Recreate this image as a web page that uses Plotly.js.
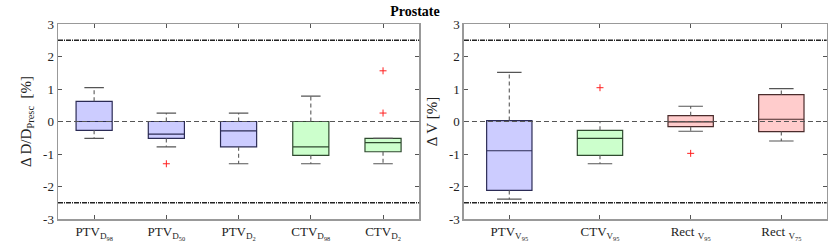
<!DOCTYPE html>
<html>
<head>
<meta charset="utf-8">
<script src="https://cdn.plot.ly/plotly-3.0.1.min.js"></script>
<style>html,body{margin:0;padding:0;background:#fff;}#chart{width:830px;height:250px;}</style>
</head>
<body>
<div id="chart"></div>
<script>
// ---- Left panel: dose differences ----
const catsL = ['PTV<sub>D<sub>98</sub></sub>', 'PTV<sub>D<sub>50</sub></sub>', 'PTV<sub>D<sub>2</sub></sub>', 'CTV<sub>D<sub>98</sub></sub>', 'CTV<sub>D<sub>2</sub></sub>'];
const colorGroupL = ['blue', 'blue', 'blue', 'green', 'green'];
const q1L  = [-0.27, -0.52, -0.78, -1.04, -0.93];
const medL = [ 0.00, -0.39, -0.29, -0.78, -0.65];
const q3L  = [ 0.62,  0.00,  0.00,  0.00, -0.52];
const loL  = [-0.52, -0.78, -1.30, -1.30, -1.30];
const hiL  = [ 1.04,  0.26,  0.26,  0.78, -0.52];
const outCatL = [2, 5, 5];
const outValL = [-1.30, 1.56, 0.26];

// ---- Right panel: volume differences ----
const catsR = ['PTV<sub>V<sub>95</sub></sub>', 'CTV<sub>V<sub>95</sub></sub>', 'Rect <sub>V<sub>95</sub></sub>', 'Rect <sub>V<sub>75</sub></sub>'];
const colorGroupR = ['blue', 'green', 'red', 'red'];
const q1R  = [-2.12, -1.04, -0.16, -0.31];
const medR = [-0.90, -0.52, -0.01,  0.07];
const q3R  = [ 0.03, -0.27,  0.18,  0.83];
const loR  = [-2.39, -1.30, -0.30, -0.60];
const hiR  = [ 1.51,  0.00,  0.47,  1.01];
const outCatR = [2, 3];
const outValR = [1.04, -0.98];

const yTicks = [-3, -2, -1, 0, 1, 2, 3];
const limitLines = [-2.5, 2.5];

const palette = {
  blue:  {fill: 'rgba(204,204,255,1)', line: '#2b2b55'},
  green: {fill: 'rgba(204,255,204,1)', line: '#2f4a2f'},
  red:   {fill: 'rgba(255,204,204,1)', line: '#4a2b2b'}
};

const FONT = 'Liberation Serif, Times New Roman, serif';
const CAP = 0.135;

function panel(cats, groups, q1, med, q3, lo, hi, outCat, outVal, xa, ya) {
  const traces = [];
  cats.forEach((c, i) => {
    const p = palette[groups[i]];
    traces.push({
      type: 'box', xaxis: xa, yaxis: ya,
      x: [i + 1], q1: [q1[i]], median: [med[i]], q3: [q3[i]],
      lowerfence: [q1[i]], upperfence: [q3[i]],
      width: 0.5, boxpoints: false,
      fillcolor: p.fill, line: {color: p.line, width: 1.2},
      showlegend: false, hoverinfo: 'skip'
    });
  });
  const wx = [], wy = [], cx = [], cy = [];
  cats.forEach((c, i) => {
    const x = i + 1;
    wx.push(x, x, null, x, x, null);
    wy.push(q3[i], hi[i], null, q1[i], lo[i], null);
    cx.push(x - CAP, x + CAP, null, x - CAP, x + CAP, null);
    cy.push(hi[i], hi[i], null, lo[i], lo[i], null);
  });
  traces.push({type: 'scatter', mode: 'lines', xaxis: xa, yaxis: ya, x: wx, y: wy,
    line: {color: '#666', width: 1.2, dash: '4px,3px'}, showlegend: false, hoverinfo: 'skip'});
  traces.push({type: 'scatter', mode: 'lines', xaxis: xa, yaxis: ya, x: cx, y: cy,
    line: {color: '#555', width: 1.2}, showlegend: false, hoverinfo: 'skip'});
  traces.push({type: 'scatter', mode: 'markers', xaxis: xa, yaxis: ya, x: outCat, y: outVal,
    marker: {symbol: 'cross-thin', size: 5, line: {color: '#ff2020', width: 1}},
    showlegend: false, hoverinfo: 'skip'});
  return traces;
}

const data = [].concat(
  panel(catsL, colorGroupL, q1L, medL, q3L, loL, hiL, outCatL, outValL, 'x', 'y'),
  panel(catsR, colorGroupR, q1R, medR, q3R, loR, hiR, outCatR, outValR, 'x2', 'y2')
);

function xaxis(domain, n, cats, anchor) {
  return {
    domain: domain, anchor: anchor, range: [0.5, n + 0.5],
    tickvals: cats.map((c, i) => i + 1), ticktext: cats,
    ticks: 'inside', ticklen: 4, tickcolor: '#555', mirror: 'ticks',
    showline: true, linecolor: '#999', linewidth: 1.5, showgrid: false, zeroline: false,
    tickfont: {family: FONT, size: 13, color: '#222'}
  };
}
function yaxis(domain, anchor, title, standoff) {
  return {
    domain: domain, anchor: anchor, range: [-3, 3],
    tickvals: yTicks, ticktext: yTicks.map(String),
    ticks: 'inside', ticklen: 4, tickcolor: '#555', mirror: 'ticks',
    showline: true, linecolor: '#999', linewidth: 1.5, showgrid: false, zeroline: false,
    tickfont: {family: FONT, size: 13, color: '#222'},
    title: {text: title, font: {family: FONT, size: 15, color: '#222'}, standoff: standoff}
  };
}

const shapes = [];
[['x', 'y'], ['x2', 'y2']].forEach(([xa, ya]) => {
  shapes.push({type: 'line', xref: xa + ' domain', yref: ya, x0: 0, x1: 1, y0: 0, y1: 0,
    line: {color: '#555', width: 1, dash: '5px,3px'}, layer: 'above'});
  limitLines.forEach(v => shapes.push({type: 'line', xref: xa + ' domain', yref: ya, x0: 0, x1: 1, y0: v, y1: v,
    line: {color: '#222', width: 1.3, dash: '5px,1px,1px,1px'}, layer: 'above'}));
});

const layout = {
  width: 830, height: 250,
  margin: {l: 0, r: 0, t: 0, b: 0},
  paper_bgcolor: '#fff', plot_bgcolor: '#fff',
  title: {text: '<b>Prostate</b>', x: 0.5, xanchor: 'center', y: 0.955, yanchor: 'middle',
    font: {family: FONT, size: 14, color: '#000'}},
  xaxis: xaxis([0.0699, 0.505], 5, catsL, 'y'),
  yaxis: yaxis([0.124, 0.904], 'x', '\u0394 D/D<sub>Presc</sub>  [%]', 8),
  xaxis2: xaxis([0.559, 0.996], 4, catsR, 'y2'),
  yaxis2: yaxis([0.124, 0.904], 'x2', '\u0394 V [%]', 8),
  shapes: shapes,
  showlegend: false
};

Plotly.newPlot('chart', data, layout, {staticPlot: true, displayModeBar: false});
</script>
</body>
</html>
